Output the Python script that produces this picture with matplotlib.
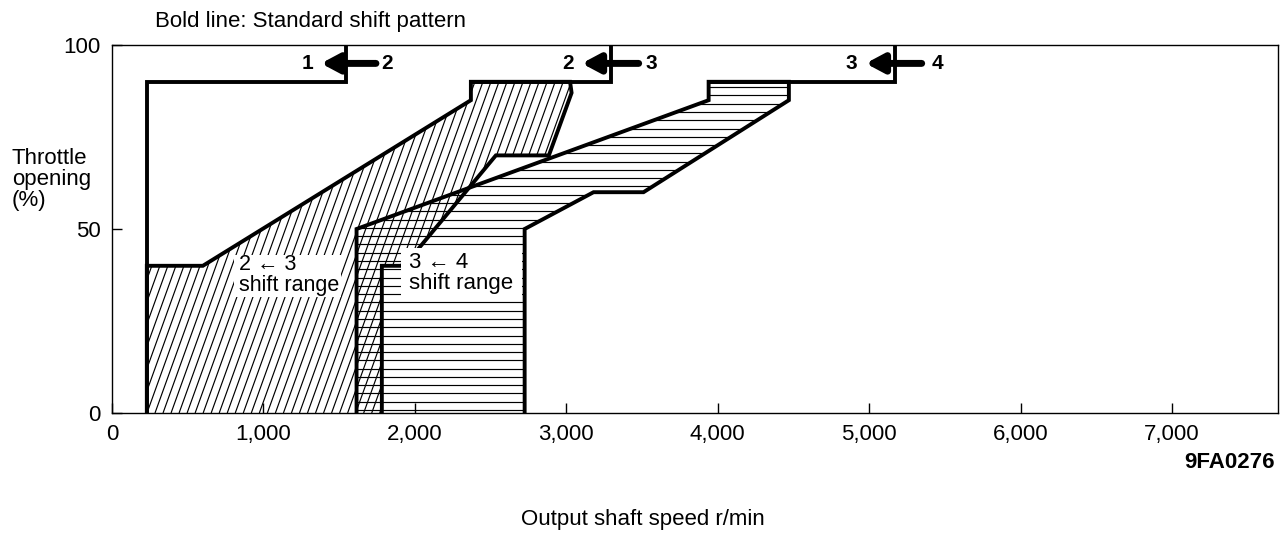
import numpy as np
import matplotlib
matplotlib.use('Agg')
import matplotlib.pyplot as plt
from matplotlib.patches import Polygon, Rectangle
from matplotlib.collections import LineCollection

plt.rcParams['font.family'] = ['Liberation Sans', 'DejaVu Sans']

# ---------------- data ----------------
speed_ticks = [0, 1000, 2000, 3000, 4000, 5000, 6000, 7000]
speed_labels = ['0', '1,000', '2,000', '3,000', '4,000', '5,000', '6,000', '7,000']
throttle_ticks = [0, 50, 100]
throttle_labels = ['0', '50', '100']

# standard (bold) shift lines
std12_speed = [1545, 1545, 230, 230]
std12_throttle = [100, 90, 90, 0]
std23_speed = [3297, 3297, 2370]
std23_throttle = [100, 90, 90]
std34_speed = [5168, 5168, 3940]
std34_throttle = [100, 90, 90]

# shift ranges
range23_speed = [230, 230, 600, 2370, 2370, 3025, 3035, 2885, 2535, 1930, 1782, 1782]
range23_throttle = [0, 40, 40, 85, 90, 90, 87, 70, 70, 40, 40, 0]
range34_speed = [1615, 1615, 3940, 3940, 4470, 4470, 3510, 3180, 2725, 2725]
range34_throttle = [0, 50, 85, 90, 90, 85, 60, 60, 50, 0]

# ---------------- figure ----------------
W, H = 1287, 542
fig = plt.figure(figsize=(W / 100, H / 100), dpi=100)
ax_l, ax_r, ax_t, ax_b = 112, 1278, 45, 413
ax = fig.add_axes([ax_l / W, 1 - ax_b / H, (ax_r - ax_l) / W, (ax_b - ax_t) / H])
ax.set_xlim(0, 7700)
ax.set_ylim(0, 100)

BOLD = 2.8

# shift range polygons (used as clip regions for the hatching)
poly23 = Polygon(np.column_stack([range23_speed, range23_throttle]), closed=True,
                 facecolor='none', edgecolor='none', zorder=1)
poly34 = Polygon(np.column_stack([range34_speed, range34_throttle]), closed=True,
                 facecolor='none', edgecolor='none', zorder=1)
ax.add_patch(poly23)
ax.add_patch(poly34)

# steep diagonal hatching for 2<-3 range
segs = []
slope = 8.75  # rpm per % throttle
for v0 in np.arange(-1200, 4000, 53):
    segs.append([(v0, 0), (v0 + slope * 100, 100)])
lc1 = LineCollection(segs, colors='black', linewidths=0.85, zorder=2)
ax.add_collection(lc1)
lc1.set_clip_path(poly23)

# horizontal hatching for 3<-4 range
segs2 = []
for t0 in np.arange(0.8, 100, 2.25):
    segs2.append([(1000, t0), (5000, t0)])
lc2 = LineCollection(segs2, colors='black', linewidths=0.85, zorder=2)
ax.add_collection(lc2)
lc2.set_clip_path(poly34)

# range outlines (open at the bottom, which is the axis)
for xs, ys in [(range23_speed, range23_throttle), (range34_speed, range34_throttle)]:
    ax.plot(xs, ys, color='black', lw=BOLD, solid_joinstyle='miter',
            solid_capstyle='butt', zorder=4)

# standard shift lines
for xs, ys in [(std12_speed, std12_throttle), (std23_speed, std23_throttle),
               (std34_speed, std34_throttle)]:
    ax.plot(xs, ys, color='black', lw=BOLD, solid_joinstyle='miter',
            solid_capstyle='butt', zorder=4)

# label boxes
ax.add_patch(Rectangle((805, 31.5), 705, 11.5, facecolor='white', edgecolor='none', zorder=5))
ax.add_patch(Rectangle((1910, 30.7), 796, 14.1, facecolor='white', edgecolor='none', zorder=5))
ax.text(838, 37.4, '2 \u2190 3\nshift range', fontsize=15.5, ha='left', va='center',
        linespacing=1.0, zorder=6)
ax.text(1960, 38.0, '3 \u2190 4\nshift range', fontsize=16, ha='left', va='center',
        linespacing=1.0, zorder=6)

# arrows with gear numbers
arrows = [
    ('1', '2', 1294, 1380, 1743, 1815),
    ('2', '3', 3010, 3102, 3478, 3564),
    ('3', '4', 4884, 4977, 5347, 5452),
]
for lo, hi, x_lo, tip, tail, x_hi in arrows:
    ax.annotate('', xy=(tip, 95), xytext=(tail, 95),
                arrowprops=dict(arrowstyle='-|>,head_length=0.75,head_width=0.4',
                                lw=5, color='black', shrinkA=0, shrinkB=0,
                                mutation_scale=14), zorder=6)
    ax.text(x_lo, 95, lo, fontsize=15, fontweight='bold', ha='center', va='center', zorder=6)
    ax.text(x_hi, 95, hi, fontsize=15, fontweight='bold', ha='center', va='center', zorder=6)

# axes styling
ax.set_xticks(speed_ticks)
ax.set_xticklabels(speed_labels)
ax.set_yticks(throttle_ticks)
ax.set_yticklabels(throttle_labels)
ax.tick_params(direction='in', length=7, width=1, labelsize=16, pad=8, colors='black')
for s in ax.spines.values():
    s.set_linewidth(1.0)
    s.set_color('black')

# figure texts
fig.text(155 / W, 1 - 22 / H, 'Bold line: Standard shift pattern', fontsize=16,
         ha='left', va='center')
fig.text(12 / W, 1 - 180 / H, 'Throttle\nopening\n(%)', fontsize=16, ha='left',
         va='center', linespacing=1.0)
fig.text(1275 / W, 1 - 463 / H, '9FA0276', fontsize=16, fontweight='bold',
         ha='right', va='center')
fig.text(643 / W, 1 - 520 / H, 'Output shaft speed r/min', fontsize=16,
         ha='center', va='center')

fig.savefig('out.png', dpi=100)
